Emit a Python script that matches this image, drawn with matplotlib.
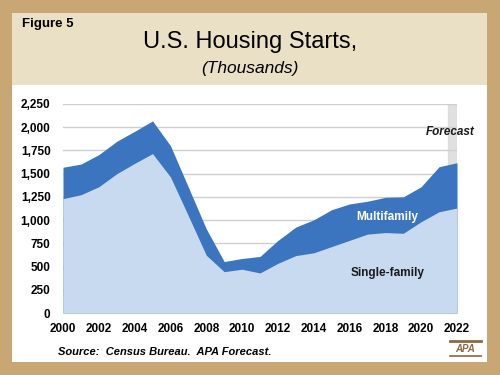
import matplotlib.pyplot as plt
from matplotlib.patches import Rectangle
from matplotlib.lines import Line2D

# 数据 (千套)
years = list(range(2000, 2023))
total = [1569, 1603, 1705, 1848, 1956, 2068, 1801, 1355, 906, 554, 587, 609,
         781, 925, 1003, 1112, 1174, 1203, 1245, 1250, 1360, 1575, 1618]
single = [1231, 1273, 1359, 1499, 1611, 1716, 1465, 1046, 622, 445, 471, 431,
          535, 618, 648, 715, 782, 849, 866, 858, 983, 1090, 1130]
yticks = [0, 250, 500, 750, 1000, 1250, 1500, 1750, 2000, 2250]
xticks = list(range(2000, 2023, 2))

plt.rcParams['font.family'] = ['Liberation Sans', 'DejaVu Sans']

fig = plt.figure(figsize=(5, 3.75), dpi=100)
fig.patch.set_facecolor('#c8a774')

# 背景面板
fig.patches.append(Rectangle((12 / 500, 1 - 362 / 375), 475 / 500, 349 / 375,
                             transform=fig.transFigure, facecolor='#eae0c5',
                             edgecolor='none', zorder=-2))
fig.patches.append(Rectangle((12 / 500, 1 - 362 / 375), 475 / 500, 277 / 375,
                             transform=fig.transFigure, facecolor='white',
                             edgecolor='none', zorder=-1))

ax = fig.add_axes([63 / 500, 1 - 313 / 375, 394 / 500, 209 / 375])
ax.set_facecolor('none')
ax.set_zorder(1)

ax.axvspan(2021.5, 2022, color='#d9d9d9', alpha=0.8, zorder=0)
ax.fill_between(years, 0, total, color='#3b75c0', linewidth=0, zorder=2)
ax.fill_between(years, 0, single, color='#c7daf0', linewidth=0, zorder=3)

ax.set_xlim(2000, 2022)
ax.set_ylim(0, 2250)
ax.set_yticks(yticks)
ax.set_yticklabels([f"{v:,}" for v in yticks], fontweight='bold', fontsize=8.5)
ax.set_xticks(xticks)
ax.set_xticklabels([str(v) for v in xticks], fontweight='bold', fontsize=8.5)
ax.tick_params(length=0)
ax.tick_params(axis='y', pad=9)
ax.tick_params(axis='x', pad=7)
ax.grid(axis='y', color='#cfcfcf', linewidth=1, zorder=1)
ax.set_axisbelow(True)
for s in ax.spines.values():
    s.set_visible(False)

ax.text(2018.1, 1030, 'Multifamily', color='white', fontweight='bold',
        fontsize=8.5, ha='center', va='center', zorder=4)
ax.text(2018.1, 430, 'Single-family', color='#1a1a1a', fontweight='bold',
        fontsize=8.5, ha='center', va='center', zorder=4)
ax.text(2021.6, 1950, 'Forecast', color='#1a1a1a', fontweight='bold',
        fontstyle='italic', fontsize=8.5, ha='center', va='center',
        zorder=4, clip_on=False)

# 标题
fig.text(22 / 500, 1 - 24 / 375, 'Figure 5', fontweight='bold', fontsize=9.5,
         ha='left', va='center')
fig.text(250 / 500, 1 - 42 / 375, 'U.S. Housing Starts,', fontsize=17,
         ha='center', va='center')
fig.text(250 / 500, 1 - 69 / 375, '(Thousands)', fontsize=12.5,
         fontstyle='italic', ha='center', va='center')
fig.text(58 / 500, 1 - 352 / 375, 'Source:  Census Bureau.  APA Forecast.',
         fontweight='bold', fontstyle='italic', fontsize=8, ha='left',
         va='center')

# APA 标志
brown = '#8c6a3c'
fig.lines.append(Line2D([450 / 500, 481 / 500], [1 - 341 / 375] * 2,
                        transform=fig.transFigure, color=brown, linewidth=2))
fig.lines.append(Line2D([450 / 500, 481 / 500], [1 - 356 / 375] * 2,
                        transform=fig.transFigure, color=brown, linewidth=1.2))
fig.text(465.5 / 500, 1 - 348.5 / 375, 'APA', color=brown, fontweight='bold',
         fontstyle='italic', fontsize=7, ha='center', va='center')

plt.savefig('out.png', dpi=100)
